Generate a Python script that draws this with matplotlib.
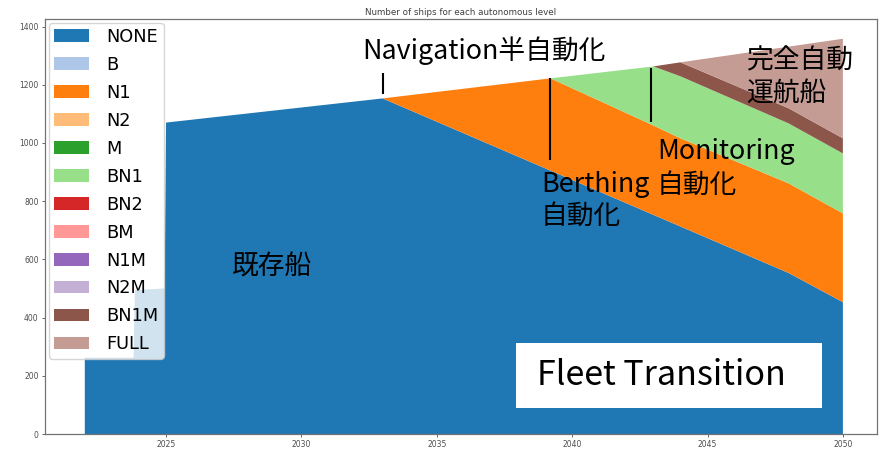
import matplotlib
matplotlib.use('Agg')
import matplotlib.pyplot as plt
from matplotlib.patches import Rectangle

# ship counts per autonomous level
years = [2022, 2023.8, 2023.85, 2024.95, 2025, 2033, 2039.2, 2043, 2044, 2048, 2050]
none = [262, 262, 495, 500, 1070, 1153, 905, 753, 713, 553, 453]
b = [0] * len(years)
n1 = [0, 0, 0, 0, 0, 0, 317, 307, 303, 308, 305]
n2 = [0] * len(years)
m = [0] * len(years)
bn1 = [0, 0, 0, 0, 0, 0, 0, 203, 213, 206, 206]
bn2 = [0] * len(years)
bm = [0] * len(years)
n1m = [0] * len(years)
n2m = [0] * len(years)
bn1m = [0, 0, 0, 0, 0, 0, 0, 0, 48, 52, 52]
full = [0, 0, 0, 0, 0, 0, 0, 0, 0, 212, 342]
labels = ['NONE', 'B', 'N1', 'N2', 'M', 'BN1', 'BN2', 'BM', 'N1M', 'N2M', 'BN1M', 'FULL']

# milestone markers: year, line bottom, line top
milestone_years = [2033, 2039.2, 2042.9]
milestone_lo = [1167, 940, 1071]
milestone_hi = [1239, 1222, 1259]

jp = ['Noto Sans CJK JP', 'DejaVu Sans']

fig = plt.figure(figsize=(8.81, 4.49), dpi=100)
ax = fig.add_axes([45 / 881, 15 / 449, 832 / 881, 415 / 449])

colors = plt.cm.tab20.colors[:12]
ax.stackplot(years, none, b, n1, n2, m, bn1, bn2, bm, n1m, n2m, bn1m, full,
             labels=labels, colors=colors, linewidth=0)

ax.set_xlim(2020.53, 2051.26)
ax.set_title('Number of ships for each autonomous level', fontsize=6.3, pad=3, color='0.25')
ax.set_xticks([2025, 2030, 2035, 2040, 2045, 2050])
ax.set_yticks(range(0, 1401, 200))
ax.tick_params(labelsize=5.5, length=2.5, width=0.6, colors='0.3', pad=2)
for s in ax.spines.values():
    s.set_linewidth(0.9)
    s.set_color('0.45')

leg = ax.legend(loc='upper left', fontsize=12.8, borderaxespad=0.2, borderpad=0.3,
                labelspacing=0.56, handletextpad=0.95)

ax.vlines(milestone_years, milestone_lo, milestone_hi, colors='black', linewidth=1.5)

ax.text(2032.24, 1318, 'Navigation半自動化', family=jp, fontsize=19.3, va='center')
ax.text(2038.85, 803, 'Berthing\n自動化', family=jp, fontsize=19.3, va='center', linespacing=1.2)
ax.text(2043.13, 912, 'Monitoring\n自動化', family=jp, fontsize=19.3, va='center', linespacing=1.3)
ax.text(2046.42, 1228, '完全自動\n運航船', family=jp, fontsize=19.3, va='center', linespacing=1.25)
ax.text(2027.44, 573, '既存船', family=jp, fontsize=19.3, va='center')

ax.add_patch(Rectangle((2037.93, 89), 11.3, 223, facecolor='white', edgecolor='none', zorder=3))
ax.text(2038.7, 200, 'Fleet Transition', family=jp, fontsize=24.5, va='center', zorder=4)

fig.savefig('out.png', dpi=100)
